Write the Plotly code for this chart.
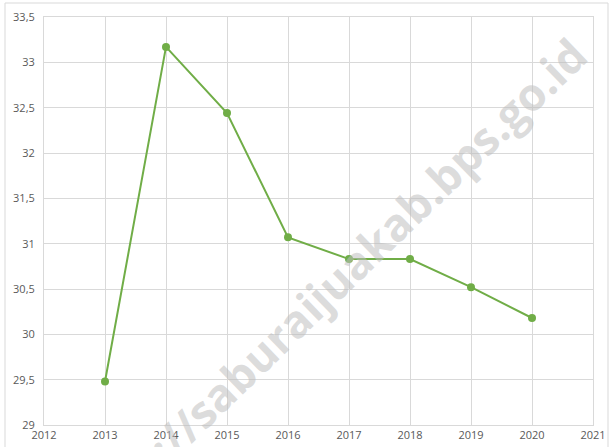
import plotly.graph_objects as go

years = [2013, 2014, 2015, 2016, 2017, 2018, 2019, 2020]
values = [29.48, 33.17, 32.44, 31.07, 30.83, 30.83, 30.52, 30.18]

x_ticks = list(range(2012, 2022))
x_ticklabels = [str(v) for v in x_ticks]
y_ticks = [29, 29.5, 30, 30.5, 31, 31.5, 32, 32.5, 33, 33.5]
y_ticklabels = ["29", "29,5", "30", "30,5", "31", "31,5", "32", "32,5", "33", "33,5"]

watermark = "https://saburaijuakab.bps.go.id"

fig = go.Figure()
fig.add_trace(go.Scatter(
    x=years, y=values, mode="lines+markers",
    line=dict(color="#70AD47", width=2),
    marker=dict(color="#70AD47", size=8),
    showlegend=False, hoverinfo="x+y",
))

axis_font = dict(family="Open Sans, Liberation Sans, sans-serif", size=11, color="#595959")
fig.update_layout(
    width=611, height=447,
    margin=dict(l=44, r=18, t=17, b=22),
    paper_bgcolor="white", plot_bgcolor="white",
    xaxis=dict(range=[2012, 2021], tickvals=x_ticks, ticktext=x_ticklabels,
               showgrid=True, gridcolor="#d9d9d9", gridwidth=1,
               showline=True, mirror=True, linecolor="#d9d9d9", linewidth=1,
               zeroline=False, ticks="", tickfont=axis_font, automargin=False),
    yaxis=dict(range=[29, 33.5], tickvals=y_ticks, ticktext=y_ticklabels,
               showgrid=True, gridcolor="#d9d9d9", gridwidth=1,
               showline=True, mirror=True, linecolor="#d9d9d9", linewidth=1,
               zeroline=False, ticks="", tickfont=axis_font, automargin=False,
               ticklabelstandoff=6),
    shapes=[dict(type="rect", xref="paper", yref="paper",
                 x0=(5 - 44) / 549, x1=(608 - 44) / 549,
                 y0=(425 - 452) / 408, y1=(425 - 3) / 408,
                 line=dict(color="#d9d9d9", width=1), fillcolor="rgba(0,0,0,0)",
                 layer="below")],
    annotations=[dict(text="<b>" + watermark + "</b>", xref="paper", yref="paper",
                      x=(324 - 44) / 549, y=(425 - 291) / 408,
                      xanchor="center", yanchor="middle", showarrow=False,
                      textangle=-44,
                      font=dict(family="Open Sans, DejaVu Sans, sans-serif", size=45,
                                color="rgba(190,190,190,0.55)"))],
)

fig.write_html("out.html", config={"displayModeBar": False},
               post_script="document.body.style.margin='0px';")
